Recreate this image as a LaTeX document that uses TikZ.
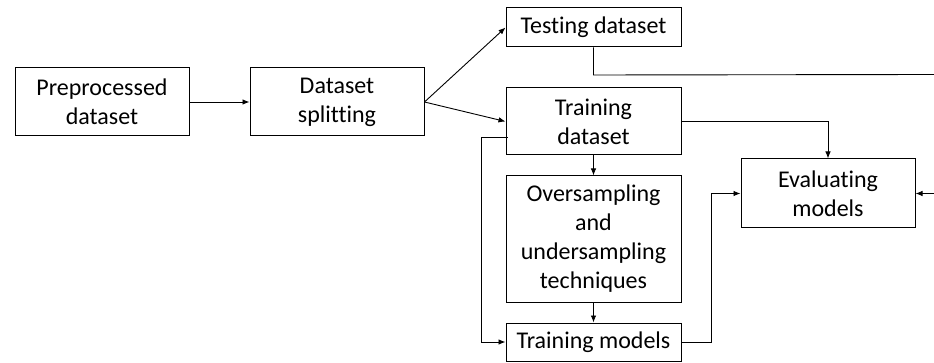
\documentclass[tikz,border=0pt]{standalone}
\usepackage{fontspec}
\setmainfont{Carlito}[Ligatures=NoCommon]
\usetikzlibrary{arrows.meta,calc}
\begin{document}
\begin{tikzpicture}[x=1pt,y=-1pt,
  box/.style={draw,line width=1pt,align=center,inner sep=0pt,font=\fontsize{24}{29}\selectfont},
  conn/.style={line width=0.9pt,-{Latex[length=7pt,width=5.5pt]}},
  plain/.style={line width=0.9pt}]
\useasboundingbox (0,0) rectangle (934,363);
\node[box,minimum width=174pt,minimum height=68pt] (pre) at (102,102) {Preprocessed\\dataset};
\node[box,minimum width=174pt,minimum height=68pt] (split) at (337,102) {Dataset\\splitting};
\node[box,minimum width=175pt,minimum height=39pt] (test) at (593.5,27.5) {Testing dataset};
\node[box,minimum width=175pt,minimum height=67pt] (train) at (593.5,121.5) {Training\\dataset};
\node[box,minimum width=175pt,minimum height=126pt] (over) at (593.5,239) {Oversampling\\and\\undersampling\\techniques};
\node[box,minimum width=175pt,minimum height=38pt] (tm) at (593.5,342) {Training models};
\node[box,minimum width=174pt,minimum height=69pt] (eval) at (828,193.5) {Evaluating\\models};
\coordinate (testend) at (934,74.5);
\coordinate (evalin) at (934,193.5);
\draw[conn] (pre.east) -- (split.west);
\draw[conn] (split.east) -- (test.west);
\draw[conn] (split.east) -- (train.west);
\draw[plain] (test.south) -- ++(0,27.5) -- (testend);
\draw[conn] (train.east) -| (eval.north);
\draw[conn] (train.south) -- (over.north);
\draw[conn] (over.south) -- (tm.north);
\draw[conn] (tm.east) -- ++(30,0) |- (eval.west);
\draw[conn] (evalin) -- (eval.east);
\draw[conn] ($(train.south west)+(2,-18)$) -- ++(-26,0) |- (tm.west);
\end{tikzpicture}
\end{document}
